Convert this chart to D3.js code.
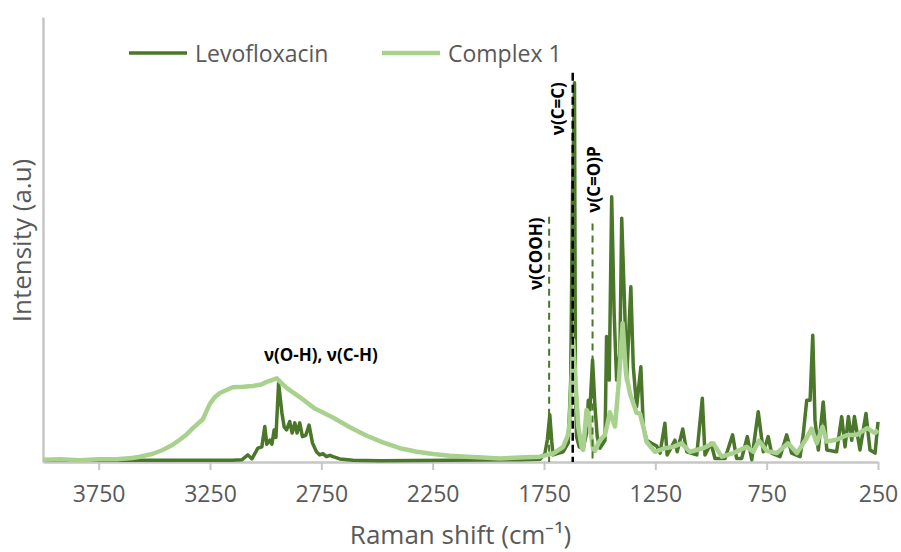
<!DOCTYPE html>
<html>
<head>
<meta charset="utf-8">
<script src="https://cdn.jsdelivr.net/npm/d3@7"></script>
<style>
  body { margin: 0; background: #fff; }
  svg { font-family: "Open Sans", sans-serif; }
</style>
</head>
<body>
<svg id="chart" width="901" height="552"></svg>
<script>
// spectra: [Raman shift (cm-1), intensity (a.u)]
var levofloxacin = [
  [4000,0.4],[3700,0.4],[3400,0.4],[3150,0.4],[3107,0.5],[3080,1.6],[3062,0.7],[3035,3.1],[3017,3.4],
  [3004,8.0],[2995,4.0],[2981,4.9],[2972,4.0],[2962,7.2],[2954,5.5],[2942,17.7],[2927,11.0],[2917,7.9],
  [2906,7.2],[2892,9.1],[2881,6.5],[2869,8.8],[2859,6.5],[2847,8.8],[2835,5.7],[2820,6.0],[2805,8.3],
  [2790,4.3],[2772,2.3],[2757,1.6],[2743,1.9],[2727,1.2],[2712,1.5],[2697,1.2],[2667,0.7],[2608,0.4],
  [2487,0.3],[2173,0.4],[1858,0.5],[1768,0.6],[1746,1.9],[1735,5.0],[1724,10.6],[1715,4.5],[1709,1.6],
  [1664,2.3],[1641,4.3],[1630,18.4],[1622,60],[1613,85.2],[1609,18.4],[1604,5.7],[1592,3.4],[1574,3.0],
  [1559,6.5],[1551,13.9],[1544,11.7],[1532,22.9],[1521,12.4],[1511,5.7],[1499,3.1],[1476,4.9],[1469,28.2],
  [1457,18.4],[1446,59.6],[1435,33.5],[1424,18.4],[1409,24.5],[1401,54.8],[1387,33.5],[1379,18.4],
  [1360,39.4],[1349,21.4],[1334,12.4],[1315,21.4],[1304,7.9],[1289,4.9],[1267,4.2],[1244,3.6],[1229,2.0],
  [1207,8.7],[1197,1.6],[1177,3.4],[1162,4.9],[1152,2.3],[1127,7.4],[1109,2.3],[1064,1.6],[1039,14.3],
  [1027,1.6],[1000,4.2],[982,0.8],[937,0.8],[903,6.1],[885,0.8],[862,0.8],[837,5.7],[817,0.5],[788,11.3],
  [765,2.3],[743,5.7],[728,2.0],[690,1.2],[660,6.1],[638,2.0],[600,1.2],[586,6.1],[570,13.9],[555,13.9],
  [543,28.5],[533,9.4],[518,2.7],[496,13.5],[480,2.7],[436,2.3],[413,10.2],[398,3.4],[383,10.2],[368,4.9],
  [356,10.2],[331,2.7],[304,10.9],[286,2.7],[263,2.0],[250,9.0]
];

var complex1 = [
  [4000,0.5],[3920,0.6],[3835,0.4],[3750,0.6],[3669,0.6],[3600,0.9],[3565,1.2],[3510,1.8],[3462,2.7],
  [3420,3.8],[3386,5.0],[3355,6.2],[3327,7.6],[3282,9.6],[3265,11.5],[3251,13.0],[3230,14.5],[3206,15.5],
  [3148,16.8],[3100,16.9],[3058,17.1],[3020,17.4],[2995,18.0],[2950,18.8],[2930,17.8],[2905,16.6],
  [2847,14.6],[2779,12.0],[2698,10.0],[2622,7.8],[2546,5.9],[2474,4.4],[2397,3.1],[2321,2.3],[2249,1.8],
  [2173,1.4],[2096,1.2],[2024,1.0],[1948,0.8],[1858,1.0],[1768,1.2],[1709,1.9],[1664,3.4],[1643,6.0],
  [1634,9.0],[1625,20],[1619,27.4],[1611,20],[1596,7.9],[1581,3.4],[1574,2.7],[1559,11.7],[1551,11.0],
  [1544,8.0],[1529,2.7],[1521,2.5],[1499,4.9],[1476,6.1],[1454,11.2],[1431,8.0],[1414,18.0],[1397,31.2],
  [1382,20.0],[1364,15.4],[1334,11.0],[1319,10.9],[1304,7.9],[1289,4.5],[1252,2.3],[1207,3.1],[1170,3.4],
  [1132,4.2],[1095,2.3],[1035,3.1],[990,4.2],[952,1.2],[900,2.0],[840,3.4],[810,2.3],[785,4.8],[750,2.5],
  [705,2.0],[654,4.2],[614,2.0],[570,5.4],[548,7.5],[525,4.2],[499,7.9],[480,4.6],[436,5.0],[391,6.0],
  [346,6.1],[299,7.6],[263,6.5],[250,7.2]
];

var seriesNames = ["Levofloxacin", "Complex 1"];
var xTicks = [3750, 3250, 2750, 2250, 1750, 1250, 750, 250];

// band markers (dashed lines) and their labels
var markerShifts = [1727, 1621, 1532];
var markerTops = [55.1, 87.5, 53.6];
var markerLabels = ["ν(COOH)", "ν(C=C)", "ν(C=O)P"];
var bandLabel = "ν(O-H), ν(C-H)";
var bandShift = 2752;
var bandLevel = 22.7;

var dark = "#4a7729";
var light = "#a9d18e";

var margin = {top: 17, right: 23, bottom: 90, left: 43};
var width = 901 - margin.left - margin.right;
var height = 552 - margin.top - margin.bottom;

var svg = d3.select("#chart")
  .append("g")
    .attr("transform", "translate(" + margin.left + "," + margin.top + ")");

var x = d3.scaleLinear()
  .domain([4000, 250])
  .range([0, width]);

var y = d3.scaleLinear()
  .domain([0, 100])
  .range([height, 0]);

// x axis
var xAxis = svg.append("g")
  .attr("class", "xAxis")
  .attr("transform", "translate(0," + height + ")")
  .call(d3.axisBottom(x).tickValues(xTicks).tickSize(8).tickSizeOuter(0).tickPadding(16).tickFormat(d3.format("d")));
xAxis.select(".domain").attr("stroke", "#c6c6c6").attr("stroke-width", 2.5);
xAxis.selectAll(".tick line").attr("stroke", "#c6c6c6").attr("stroke-width", 2);
xAxis.selectAll(".tick text")
  .attr("fill", "#595959")
  .style("font-size", "23px")
  .style("font-family", "'Open Sans', sans-serif");

// y axis, line only
var yAxis = svg.append("g")
  .attr("class", "yAxis")
  .call(d3.axisLeft(y).tickValues([]).tickSizeOuter(0));
yAxis.select(".domain").attr("stroke", "#c6c6c6").attr("stroke-width", 2.5);

var line = d3.line()
  .x(function(d) { return x(d[0]); })
  .y(function(d) { return y(d[1]); });

svg.append("path")
  .datum(levofloxacin)
  .attr("fill", "none")
  .attr("stroke", dark)
  .attr("stroke-width", 3.5)
  .attr("stroke-linejoin", "round")
  .attr("d", line);

svg.append("path")
  .datum(complex1)
  .attr("fill", "none")
  .attr("stroke", light)
  .attr("stroke-width", 4.5)
  .attr("stroke-linejoin", "round")
  .attr("d", line);

// dashed markers
svg.selectAll(".marker")
  .data(markerShifts)
  .enter().append("line")
    .attr("class", "marker")
    .attr("x1", function(d) { return x(d); })
    .attr("x2", function(d) { return x(d); })
    .attr("y1", function(d, i) { return y(markerTops[i]); })
    .attr("y2", height)
    .attr("stroke", function(d, i) { return i == 1 ? "#000" : dark; })
    .attr("stroke-width", function(d, i) { return i == 1 ? 2.5 : 2; })
    .attr("stroke-dasharray", function(d, i) { return i == 1 ? "8,4" : "7,5"; });

var labelDx = [-14, -15, 1];
var labelDy = [37, 36, -44];
svg.selectAll(".markerLabel")
  .data(markerLabels)
  .enter().append("text")
    .attr("class", "markerLabel")
    .attr("transform", function(d, i) {
      return "translate(" + (x(markerShifts[i]) + labelDx[i]) + "," + (y(markerTops[i]) + labelDy[i]) + ") rotate(-90)";
    })
    .attr("text-anchor", "middle")
    .attr("dominant-baseline", "central")
    .style("font-size", "17px")
    .style("font-weight", "bold")
    .attr("fill", "#000")
    .text(function(d) { return d; });

svg.append("text")
  .attr("x", x(bandShift))
  .attr("y", y(bandLevel))
  .attr("text-anchor", "middle")
  .style("font-size", "17px")
  .style("font-weight", "bold")
  .attr("fill", "#000")
  .text(bandLabel);

// legend
var legend = svg.selectAll(".legend")
  .data(seriesNames)
  .enter().append("g")
    .attr("class", "legend")
    .attr("transform", function(d, i) { return "translate(" + (86 + i * 253) + ",36)"; });
legend.append("line")
  .attr("x1", 0).attr("x2", 58)
  .attr("stroke", function(d, i) { return i == 0 ? dark : light; })
  .attr("stroke-width", function(d, i) { return i == 0 ? 3.5 : 4.5; });
legend.append("text")
  .attr("x", 66)
  .attr("dominant-baseline", "central")
  .attr("fill", "#595959")
  .style("font-size", "23px")
  .text(function(d) { return d; });

// axis titles
svg.append("text")
  .attr("x", width / 2)
  .attr("y", height + 82)
  .attr("text-anchor", "middle")
  .attr("fill", "#595959")
  .style("font-size", "26px")
  .text("Raman shift (cm⁻¹)");

svg.append("text")
  .attr("transform", "translate(-12," + (height / 2 + 1) + ") rotate(-90)")
  .attr("text-anchor", "middle")
  .attr("fill", "#595959")
  .style("font-size", "26px")
  .text("Intensity (a.u)");
</script>
</body>
</html>
